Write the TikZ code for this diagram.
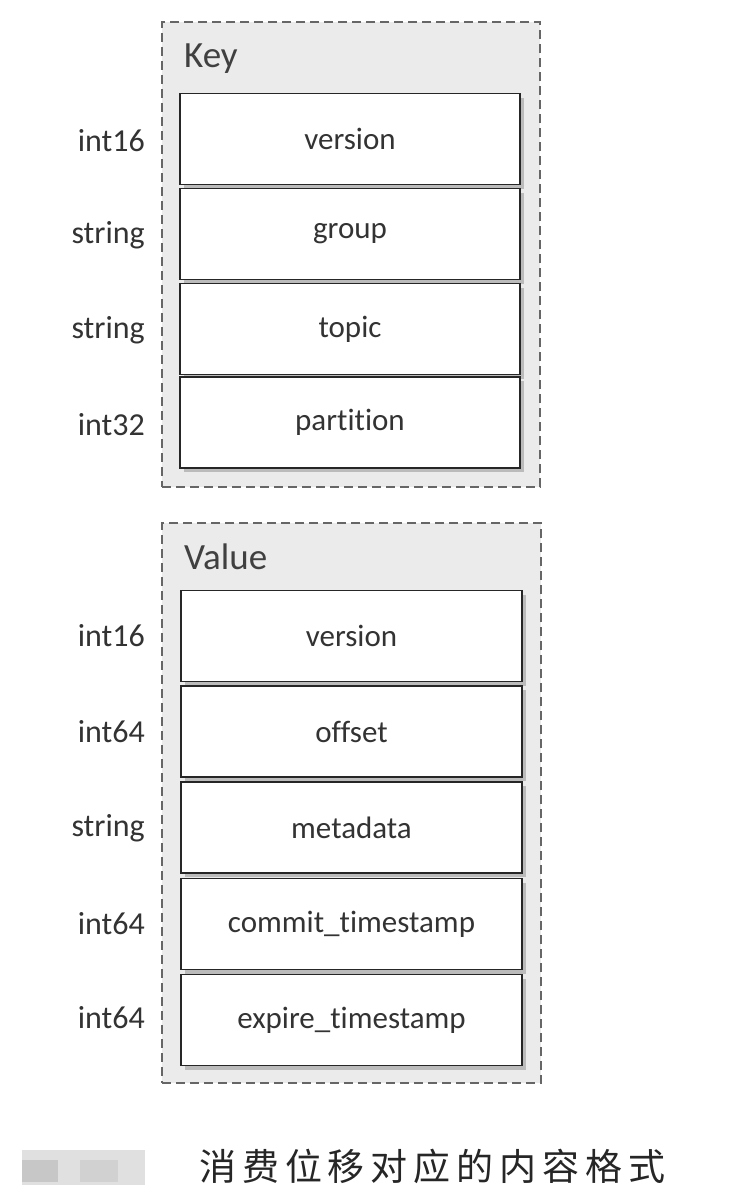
\documentclass[tikz,border=0pt]{standalone}
\usepackage{fontspec}
\setmainfont{Carlito}[Ligatures=NoCommon]
\newfontfamily\cjkfont{Noto Sans CJK SC}
\usetikzlibrary{shadows}
\tikzset{
  outerbox/.style={draw=black!60, dashed, dash pattern=on 9pt off 5pt, line width=1.4pt, fill=black!8, inner sep=0pt},
  field/.style={draw=black!85, line width=1.6pt, fill=white, inner sep=0pt,
     minimum width=340pt, minimum height=91pt, text=black!80,
     font=\fontsize{31}{35}\selectfont,
     drop shadow={shadow xshift=4pt, shadow yshift=-4pt, fill=black!45, opacity=0.5}},
  typelabel/.style={anchor=east, inner sep=0pt, text=black!80, font=\fontsize{32}{36}\selectfont},
  title/.style={anchor=west, inner sep=0pt, text=black!75, font=\fontsize{37}{40}\selectfont},
}
\begin{document}
\begin{tikzpicture}[x=1pt, y=-1pt]
\useasboundingbox (0,0) rectangle (749,1199);
\fill[white] (0,0) rectangle (749,1199);
% Key block
\node (keybox) [outerbox, minimum width=378pt, minimum height=465pt] at (351,254.5) {};
\node (keytitle) [title] at (184,59) {Key};
\node (k1) [field] at (350,139) {version};
\node (k2) [field] at (350,234) {group};
\node (k3) [field] at (350,329) {topic};
\node (k4) [field] at (350,422.5) {partition};
\node (kt1) [typelabel] at (145,141) {int16};
\node (kt2) [typelabel] at (145,235) {string};
\node (kt3) [typelabel] at (145,330) {string};
\node (kt4) [typelabel] at (145,425) {int32};
% Value block
\node (valbox) [outerbox, minimum width=379pt, minimum height=560pt] at (351.5,803) {};
\node (valtitle) [title] at (184,557) {Value};
\node (v1) [field, minimum width=341pt] at (351.5,636) {version};
\node (v2) [field, minimum width=341pt] at (351.5,731.5) {offset};
\node (v3) [field, minimum width=341pt] at (351.5,827.5) {metadata};
\node (v4) [field, minimum width=341pt] at (351.5,924) {commit\_timestamp};
\node (v5) [field, minimum width=341pt] at (351.5,1020) {expire\_timestamp};
\node (vt1) [typelabel] at (145,636) {int16};
\node (vt2) [typelabel] at (145,732) {int64};
\node (vt3) [typelabel] at (145,828) {string};
\node (vt4) [typelabel] at (145,924) {int64};
\node (vt5) [typelabel] at (145,1018) {int64};
% caption
\fill[black!12] (22,1150) rectangle (145,1185);
\fill[black!22] (22,1160) rectangle (58,1182);
\fill[black!18] (80,1160) rectangle (118,1182);
\node (caption) [anchor=west, inner sep=0pt, font=\cjkfont\fontsize{37}{40}\selectfont, text=black!85] at (199,1166) {\addfontfeature{LetterSpace=16}消费位移对应的内容格式};
\end{tikzpicture}
\end{document}
